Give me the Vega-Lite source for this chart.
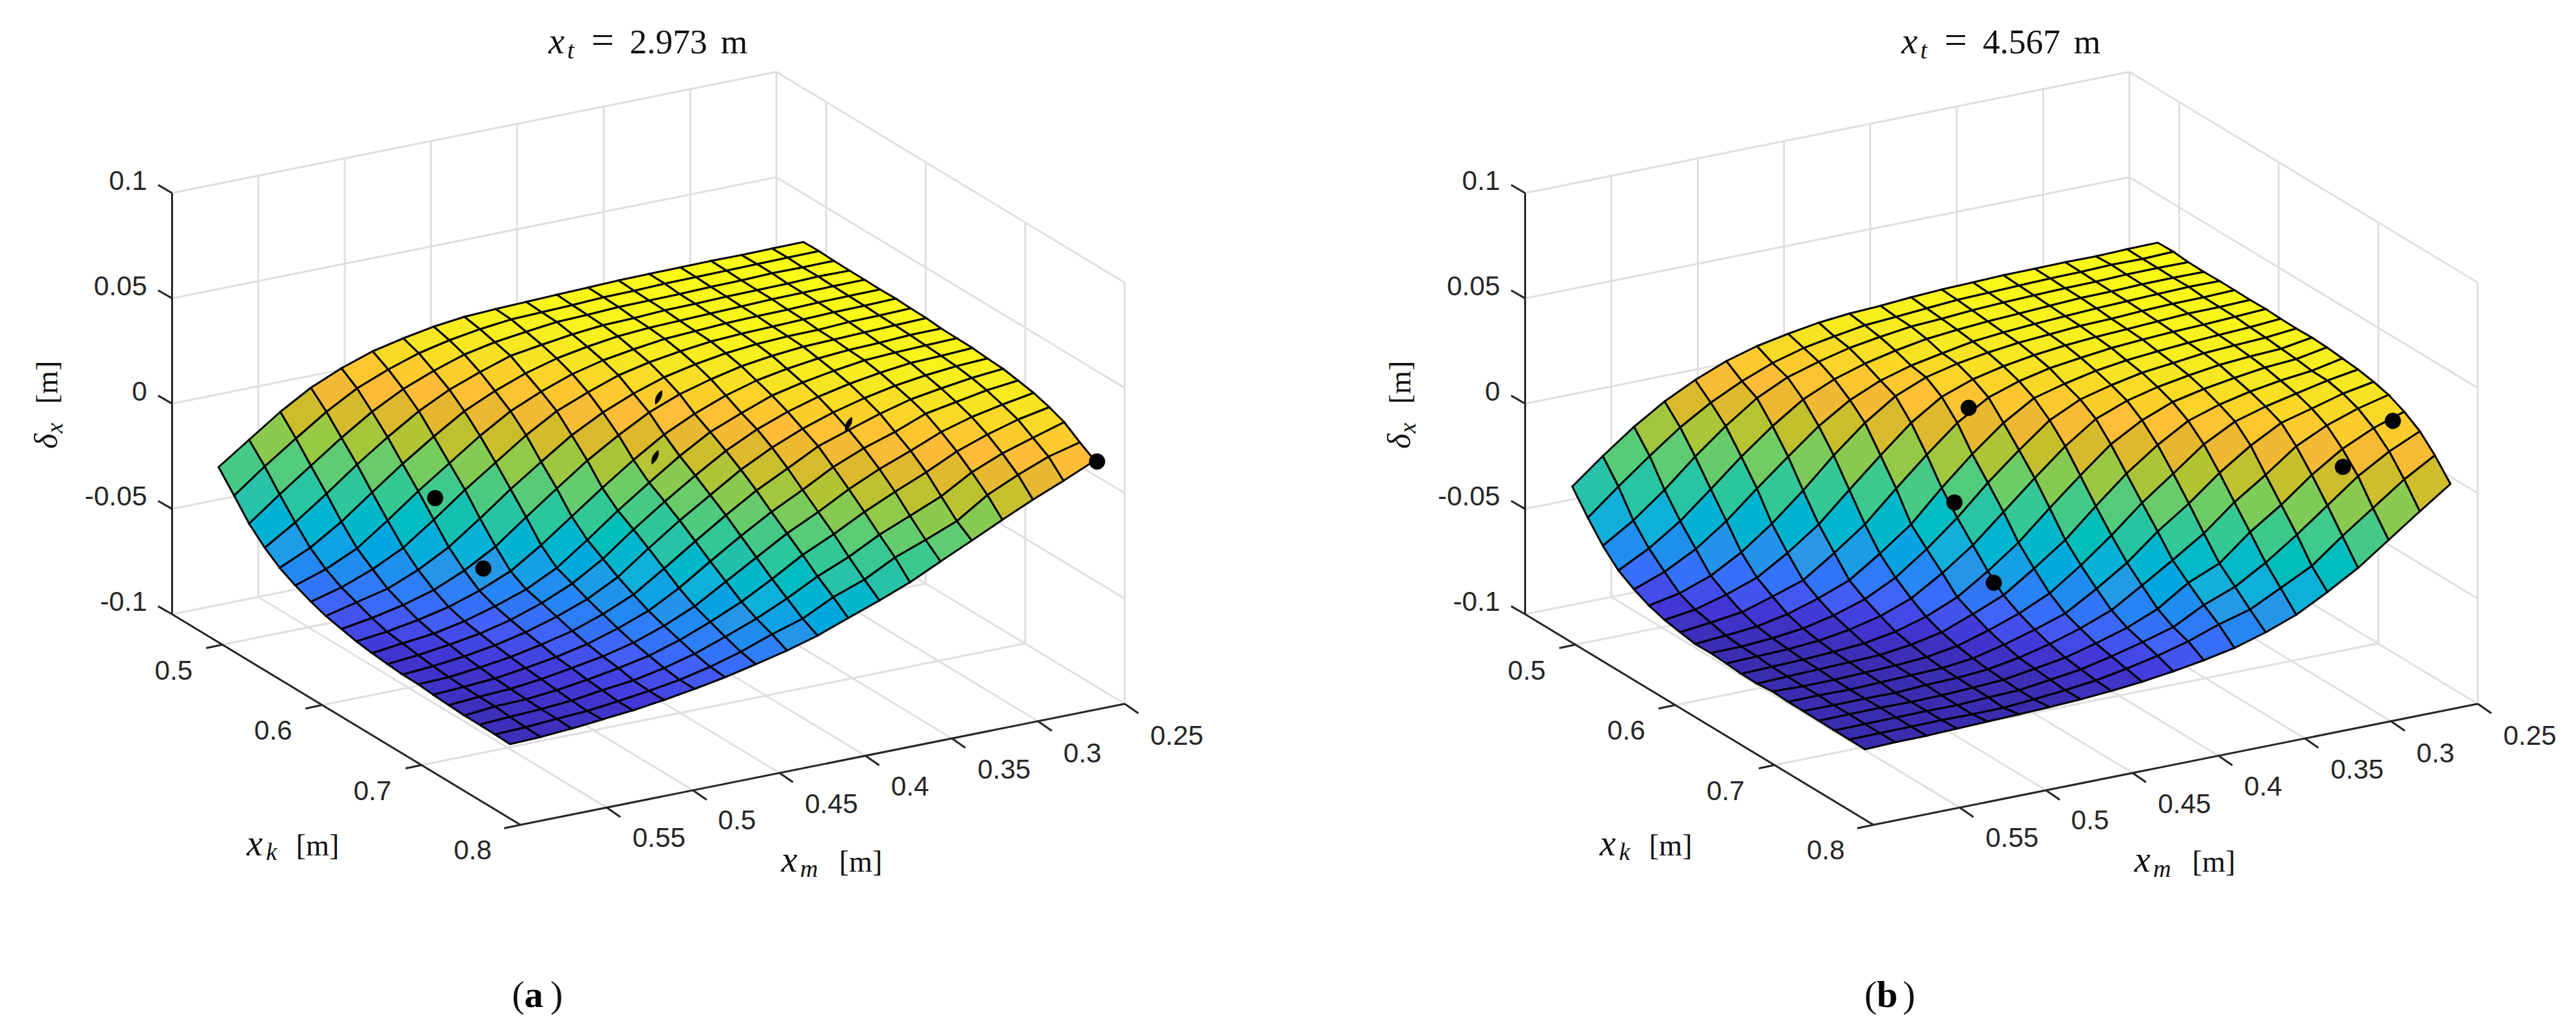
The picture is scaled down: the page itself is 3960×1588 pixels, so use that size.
{"$schema":"https://vega.github.io/schema/vega-lite/v6.json","width":3960,"height":1588,"padding":0,"autosize":{"type":"fit","contains":"padding"},"background":"white","view":{"stroke":null},
"datasets":{
"grid":[{"x":264.5,"y":296.7,"x2":1193.5,"y2":110.5},{"x":264.5,"y":458.6,"x2":1193.5,"y2":272.4},{"x":264.5,"y":620.5,"x2":1193.5,"y2":434.3},{"x":264.5,"y":782.4,"x2":1193.5,"y2":596.2},{"x":264.5,"y":944.3,"x2":1193.5,"y2":758},{"x":1193.5,"y":110.5,"x2":1729,"y2":434.5},{"x":1193.5,"y":272.4,"x2":1729,"y2":596.4},{"x":1193.5,"y":434.3,"x2":1729,"y2":758.3},{"x":1193.5,"y":596.2,"x2":1729,"y2":920.2},{"x":1193.5,"y":758,"x2":1729,"y2":1082},{"x":397,"y":270,"x2":397,"y2":917.7},{"x":530,"y":243.5,"x2":530,"y2":891},{"x":662.5,"y":217,"x2":662.5,"y2":864.5},{"x":795,"y":190,"x2":795,"y2":838},{"x":928,"y":164,"x2":928,"y2":811},{"x":1061,"y":137,"x2":1061,"y2":784.7},{"x":1193.5,"y":110.5,"x2":1193.5,"y2":758},{"x":1270,"y":157,"x2":1270,"y2":804},{"x":1423,"y":249,"x2":1423,"y2":897},{"x":1576,"y":342,"x2":1576,"y2":989},{"x":1729,"y":434.5,"x2":1729,"y2":1082},{"x":397,"y":917.7,"x2":932.7,"y2":1241.4},{"x":530,"y":891,"x2":1065.4,"y2":1215},{"x":662.5,"y":864.5,"x2":1198,"y2":1188},{"x":795,"y":838,"x2":1330.7,"y2":1162},{"x":928,"y":811,"x2":1463,"y2":1135},{"x":1061,"y":784.7,"x2":1596,"y2":1109},{"x":342,"y":991,"x2":1270,"y2":804},{"x":494.5,"y":1084,"x2":1423,"y2":897},{"x":648.5,"y":1176,"x2":1576,"y2":989},
{"x":2344.5,"y":296.7,"x2":3273.5,"y2":110.5},{"x":2344.5,"y":458.6,"x2":3273.5,"y2":272.4},{"x":2344.5,"y":620.5,"x2":3273.5,"y2":434.3},{"x":2344.5,"y":782.4,"x2":3273.5,"y2":596.2},{"x":2344.5,"y":944.3,"x2":3273.5,"y2":758},{"x":3273.5,"y":110.5,"x2":3809,"y2":434.5},{"x":3273.5,"y":272.4,"x2":3809,"y2":596.4},{"x":3273.5,"y":434.3,"x2":3809,"y2":758.3},{"x":3273.5,"y":596.2,"x2":3809,"y2":920.2},{"x":3273.5,"y":758,"x2":3809,"y2":1082},{"x":2477,"y":270,"x2":2477,"y2":917.7},{"x":2610,"y":243.5,"x2":2610,"y2":891},{"x":2742.5,"y":217,"x2":2742.5,"y2":864.5},{"x":2875,"y":190,"x2":2875,"y2":838},{"x":3008,"y":164,"x2":3008,"y2":811},{"x":3141,"y":137,"x2":3141,"y2":784.7},{"x":3273.5,"y":110.5,"x2":3273.5,"y2":758},{"x":3350,"y":157,"x2":3350,"y2":804},{"x":3503,"y":249,"x2":3503,"y2":897},{"x":3656,"y":342,"x2":3656,"y2":989},{"x":3809,"y":434.5,"x2":3809,"y2":1082},{"x":2477,"y":917.7,"x2":3012.7,"y2":1241.4},{"x":2610,"y":891,"x2":3145.4,"y2":1215},{"x":2742.5,"y":864.5,"x2":3278,"y2":1188},{"x":2875,"y":838,"x2":3410.7,"y2":1162},{"x":3008,"y":811,"x2":3543,"y2":1135},{"x":3141,"y":784.7,"x2":3676,"y2":1109},{"x":2422,"y":991,"x2":3350,"y2":804},{"x":2574.5,"y":1084,"x2":3503,"y2":897},{"x":2728.5,"y":1176,"x2":3656,"y2":989}],
"axes":[{"x":264.5,"y":296.7,"x2":264.5,"y2":944.3},{"x":264.5,"y":944.3,"x2":800,"y2":1268},{"x":800,"y":1268,"x2":1729,"y2":1082},{"x":264.5,"y":296.7,"x2":243,"y2":284.3},{"x":264.5,"y":458.6,"x2":243,"y2":446.2},{"x":264.5,"y":620.5,"x2":243,"y2":608.1},{"x":264.5,"y":782.4,"x2":243,"y2":770},{"x":264.5,"y":944.3,"x2":243,"y2":931.9},{"x":342,"y":991,"x2":317,"y2":996.3},{"x":494.5,"y":1084,"x2":469.5,"y2":1089.3},{"x":648.5,"y":1176,"x2":623.5,"y2":1181.3},{"x":800,"y":1268,"x2":775,"y2":1273.3},{"x":932.7,"y":1241.4,"x2":953.7,"y2":1256},{"x":1065.4,"y":1215,"x2":1086.4,"y2":1229.6},{"x":1198,"y":1188,"x2":1219,"y2":1202.6},{"x":1330.7,"y":1162,"x2":1351.7,"y2":1176.6},{"x":1463,"y":1135,"x2":1484,"y2":1149.6},{"x":1596,"y":1109,"x2":1617,"y2":1123.6},{"x":1729,"y":1082,"x2":1750,"y2":1096.6},
{"x":2344.5,"y":296.7,"x2":2344.5,"y2":944.3},{"x":2344.5,"y":944.3,"x2":2880,"y2":1268},{"x":2880,"y":1268,"x2":3809,"y2":1082},{"x":2344.5,"y":296.7,"x2":2323,"y2":284.3},{"x":2344.5,"y":458.6,"x2":2323,"y2":446.2},{"x":2344.5,"y":620.5,"x2":2323,"y2":608.1},{"x":2344.5,"y":782.4,"x2":2323,"y2":770},{"x":2344.5,"y":944.3,"x2":2323,"y2":931.9},{"x":2422,"y":991,"x2":2397,"y2":996.3},{"x":2574.5,"y":1084,"x2":2549.5,"y2":1089.3},{"x":2728.5,"y":1176,"x2":2703.5,"y2":1181.3},{"x":2880,"y":1268,"x2":2855,"y2":1273.3},{"x":3012.7,"y":1241.4,"x2":3033.7,"y2":1256},{"x":3145.4,"y":1215,"x2":3166.4,"y2":1229.6},{"x":3278,"y":1188,"x2":3299,"y2":1202.6},{"x":3410.7,"y":1162,"x2":3431.7,"y2":1176.6},{"x":3543,"y":1135,"x2":3564,"y2":1149.6},{"x":3676,"y":1109,"x2":3697,"y2":1123.6},{"x":3809,"y":1082,"x2":3830,"y2":1096.6}],
"mesh":[
{"x":336,"y":718,"c":264},{"x":383,"y":676,"c":297},{"x":431,"y":633,"c":330},{"x":478,"y":596,"c":358},{"x":525,"y":566,"c":378},{"x":573,"y":540,"c":395},{"x":620,"y":520,"c":406},{"x":667,"y":502,"c":414},{"x":714,"y":487,"c":420},{"x":762,"y":475,"c":422},{"x":809,"y":464,"c":424},{"x":856,"y":453,"c":425},{"x":904,"y":442,"c":427},{"x":951,"y":431,"c":428},{"x":998,"y":421,"c":429},{"x":1046,"y":411,"c":429},{"x":1093,"y":401,"c":430},{"x":1140,"y":392,"c":430},{"x":1187,"y":382,"c":431},{"x":1235,"y":372},
{"x":360,"y":762,"c":234},{"x":407,"y":717,"c":270},{"x":455,"y":674,"c":303},{"x":502,"y":633,"c":335},{"x":549,"y":597,"c":362},{"x":597,"y":568,"c":381},{"x":644,"y":543,"c":397},{"x":691,"y":523,"c":407},{"x":738,"y":506,"c":415},{"x":786,"y":491,"c":420},{"x":833,"y":480,"c":422},{"x":880,"y":469,"c":424},{"x":928,"y":457,"c":426},{"x":975,"y":447,"c":427},{"x":1022,"y":436,"c":428},{"x":1070,"y":426,"c":429},{"x":1117,"y":416,"c":430},{"x":1164,"y":406,"c":430},{"x":1211,"y":396,"c":431},{"x":1259,"y":386},
{"x":383,"y":805,"c":206},{"x":430,"y":760,"c":241},{"x":478,"y":716,"c":276},{"x":525,"y":673,"c":309},{"x":572,"y":633,"c":340},{"x":620,"y":598,"c":365},{"x":667,"y":570,"c":384},{"x":714,"y":545,"c":400},{"x":761,"y":526,"c":409},{"x":809,"y":510,"c":416},{"x":856,"y":495,"c":421},{"x":903,"y":484,"c":423},{"x":951,"y":472,"c":425},{"x":998,"y":462,"c":426},{"x":1045,"y":452,"c":427},{"x":1093,"y":441,"c":428},{"x":1140,"y":431,"c":429},{"x":1187,"y":420,"c":430},{"x":1234,"y":411,"c":430},{"x":1282,"y":401},
{"x":407,"y":842,"c":183},{"x":454,"y":803,"c":212},{"x":502,"y":759,"c":247},{"x":549,"y":714,"c":282},{"x":596,"y":672,"c":315},{"x":644,"y":632,"c":345},{"x":691,"y":599,"c":369},{"x":738,"y":572,"c":387},{"x":785,"y":547,"c":402},{"x":833,"y":530,"c":410},{"x":880,"y":514,"c":417},{"x":927,"y":500,"c":421},{"x":975,"y":489,"c":423},{"x":1022,"y":477,"c":425},{"x":1069,"y":467,"c":426},{"x":1117,"y":456,"c":427},{"x":1164,"y":446,"c":428},{"x":1211,"y":436,"c":429},{"x":1258,"y":425,"c":430},{"x":1306,"y":416},
{"x":430,"y":873,"c":166},{"x":477,"y":842,"c":187},{"x":525,"y":802,"c":218},{"x":572,"y":757,"c":254},{"x":619,"y":713,"c":288},{"x":667,"y":671,"c":321},{"x":714,"y":632,"c":350},{"x":761,"y":601,"c":372},{"x":808,"y":574,"c":390},{"x":856,"y":551,"c":403},{"x":903,"y":533,"c":412},{"x":950,"y":517,"c":418},{"x":998,"y":504,"c":421},{"x":1045,"y":493,"c":423},{"x":1092,"y":482,"c":425},{"x":1140,"y":471,"c":426},{"x":1187,"y":460,"c":428},{"x":1234,"y":450,"c":429},{"x":1281,"y":440,"c":429},{"x":1329,"y":430},
{"x":454,"y":900,"c":153},{"x":501,"y":875,"c":169},{"x":549,"y":843,"c":191},{"x":596,"y":800,"c":224},{"x":643,"y":755,"c":260},{"x":691,"y":712,"c":294},{"x":738,"y":670,"c":327},{"x":785,"y":632,"c":355},{"x":832,"y":602,"c":376},{"x":880,"y":575,"c":393},{"x":927,"y":554,"c":405},{"x":974,"y":537,"c":413},{"x":1022,"y":521,"c":419},{"x":1069,"y":509,"c":422},{"x":1116,"y":497,"c":424},{"x":1164,"y":486,"c":425},{"x":1211,"y":476,"c":427},{"x":1258,"y":465,"c":428},{"x":1305,"y":455,"c":429},{"x":1353,"y":445},
{"x":478,"y":925,"c":142},{"x":525,"y":903,"c":155},{"x":573,"y":875,"c":173},{"x":620,"y":842,"c":197},{"x":667,"y":799,"c":231},{"x":715,"y":753,"c":267},{"x":762,"y":711,"c":300},{"x":809,"y":669,"c":332},{"x":856,"y":632,"c":360},{"x":904,"y":603,"c":379},{"x":951,"y":577,"c":396},{"x":998,"y":557,"c":407},{"x":1046,"y":540,"c":414},{"x":1093,"y":525,"c":420},{"x":1140,"y":513,"c":422},{"x":1188,"y":502,"c":424},{"x":1235,"y":491,"c":426},{"x":1282,"y":480,"c":427},{"x":1329,"y":470,"c":428},{"x":1377,"y":459},
{"x":501,"y":947,"c":134},{"x":548,"y":926,"c":146},{"x":596,"y":905,"c":158},{"x":643,"y":876,"c":177},{"x":690,"y":841,"c":203},{"x":738,"y":797,"c":237},{"x":785,"y":752,"c":273},{"x":832,"y":710,"c":305},{"x":879,"y":669,"c":337},{"x":927,"y":634,"c":363},{"x":974,"y":605,"c":382},{"x":1021,"y":580,"c":398},{"x":1069,"y":560,"c":408},{"x":1116,"y":543,"c":415},{"x":1163,"y":529,"c":420},{"x":1211,"y":517,"c":422},{"x":1258,"y":507,"c":424},{"x":1305,"y":495,"c":426},{"x":1352,"y":485,"c":427},{"x":1400,"y":474},
{"x":525,"y":967,"c":129},{"x":572,"y":950,"c":136},{"x":620,"y":930,"c":147},{"x":667,"y":907,"c":160},{"x":714,"y":877,"c":181},{"x":762,"y":840,"c":209},{"x":809,"y":795,"c":244},{"x":856,"y":751,"c":278},{"x":903,"y":708,"c":311},{"x":951,"y":669,"c":342},{"x":998,"y":634,"c":367},{"x":1045,"y":606,"c":385},{"x":1093,"y":583,"c":400},{"x":1140,"y":563,"c":409},{"x":1187,"y":547,"c":416},{"x":1235,"y":533,"c":421},{"x":1282,"y":522,"c":423},{"x":1329,"y":511,"c":425},{"x":1376,"y":500,"c":426},{"x":1424,"y":489},
{"x":548,"y":986,"c":124},{"x":595,"y":971,"c":130},{"x":643,"y":953,"c":138},{"x":690,"y":933,"c":149},{"x":737,"y":908,"c":164},{"x":785,"y":878,"c":185},{"x":832,"y":838,"c":215},{"x":879,"y":794,"c":250},{"x":926,"y":750,"c":284},{"x":974,"y":707,"c":317},{"x":1021,"y":668,"c":347},{"x":1068,"y":636,"c":370},{"x":1116,"y":608,"c":388},{"x":1163,"y":585,"c":403},{"x":1210,"y":567,"c":411},{"x":1258,"y":551,"c":418},{"x":1305,"y":538,"c":421},{"x":1352,"y":527,"c":423},{"x":1399,"y":515,"c":425},{"x":1447,"y":505},
{"x":572,"y":1004,"c":120},{"x":619,"y":989,"c":125},{"x":667,"y":974,"c":131},{"x":714,"y":955,"c":140},{"x":761,"y":932,"c":154},{"x":809,"y":906,"c":171},{"x":856,"y":873,"c":194},{"x":903,"y":830,"c":228},{"x":950,"y":785,"c":264},{"x":998,"y":742,"c":297},{"x":1045,"y":701,"c":329},{"x":1092,"y":664,"c":357},{"x":1140,"y":635,"c":376},{"x":1187,"y":608,"c":393},{"x":1234,"y":588,"c":405},{"x":1282,"y":570,"c":413},{"x":1329,"y":554,"c":419},{"x":1376,"y":542,"c":422},{"x":1423,"y":531,"c":424},{"x":1471,"y":520},
{"x":596,"y":1021,"c":117},{"x":643,"y":1007,"c":122},{"x":691,"y":991,"c":128},{"x":738,"y":974,"c":136},{"x":785,"y":953,"c":148},{"x":833,"y":927,"c":164},{"x":880,"y":897,"c":184},{"x":927,"y":859,"c":214},{"x":974,"y":814,"c":249},{"x":1022,"y":771,"c":282},{"x":1069,"y":731,"c":313},{"x":1116,"y":693,"c":342},{"x":1164,"y":660,"c":365},{"x":1211,"y":633,"c":383},{"x":1258,"y":610,"c":397},{"x":1306,"y":590,"c":407},{"x":1353,"y":573,"c":415},{"x":1400,"y":558,"c":420},{"x":1447,"y":547,"c":422},{"x":1495,"y":535},
{"x":619,"y":1037,"c":115},{"x":666,"y":1024,"c":119},{"x":714,"y":1009,"c":125},{"x":761,"y":992,"c":132},{"x":808,"y":972,"c":142},{"x":856,"y":948,"c":157},{"x":903,"y":921,"c":175},{"x":950,"y":887,"c":199},{"x":997,"y":843,"c":234},{"x":1045,"y":800,"c":268},{"x":1092,"y":761,"c":297},{"x":1139,"y":722,"c":327},{"x":1187,"y":688,"c":351},{"x":1234,"y":659,"c":371},{"x":1281,"y":634,"c":387},{"x":1329,"y":612,"c":399},{"x":1376,"y":593,"c":409},{"x":1423,"y":577,"c":416},{"x":1470,"y":563,"c":420},{"x":1518,"y":551},
{"x":643,"y":1052,"c":115},{"x":690,"y":1041,"c":116},{"x":738,"y":1026,"c":122},{"x":785,"y":1010,"c":128},{"x":832,"y":991,"c":138},{"x":880,"y":970,"c":150},{"x":927,"y":944,"c":166},{"x":974,"y":914,"c":187},{"x":1021,"y":874,"c":217},{"x":1069,"y":832,"c":250},{"x":1116,"y":792,"c":280},{"x":1163,"y":754,"c":308},{"x":1211,"y":720,"c":334},{"x":1258,"y":686,"c":358},{"x":1305,"y":661,"c":374},{"x":1353,"y":636,"c":389},{"x":1400,"y":614,"c":402},{"x":1447,"y":597,"c":410},{"x":1494,"y":581,"c":416},{"x":1542,"y":567},
{"x":666,"y":1068,"c":113},{"x":713,"y":1056,"c":115},{"x":761,"y":1043,"c":119},{"x":808,"y":1027,"c":125},{"x":855,"y":1010,"c":133},{"x":903,"y":990,"c":144},{"x":950,"y":966,"c":158},{"x":997,"y":939,"c":176},{"x":1044,"y":904,"c":201},{"x":1092,"y":863,"c":233},{"x":1139,"y":824,"c":263},{"x":1186,"y":787,"c":290},{"x":1234,"y":753,"c":315},{"x":1281,"y":718,"c":340},{"x":1328,"y":689,"c":360},{"x":1376,"y":664,"c":376},{"x":1423,"y":636,"c":394},{"x":1470,"y":618,"c":403},{"x":1517,"y":600,"c":411},{"x":1565,"y":585},
{"x":690,"y":1084,"c":111},{"x":737,"y":1071,"c":114},{"x":785,"y":1059,"c":117},{"x":832,"y":1044,"c":123},{"x":879,"y":1027,"c":130},{"x":927,"y":1009,"c":139},{"x":974,"y":988,"c":151},{"x":1021,"y":962,"c":167},{"x":1068,"y":932,"c":188},{"x":1116,"y":894,"c":216},{"x":1163,"y":857,"c":244},{"x":1210,"y":820,"c":272},{"x":1258,"y":787,"c":295},{"x":1305,"y":752,"c":321},{"x":1352,"y":721,"c":342},{"x":1400,"y":693,"c":361},{"x":1447,"y":664,"c":380},{"x":1494,"y":641,"c":394},{"x":1541,"y":622,"c":404},{"x":1589,"y":604},
{"x":714,"y":1100,"c":109},{"x":761,"y":1086,"c":113},{"x":809,"y":1075,"c":116},{"x":856,"y":1061,"c":120},{"x":903,"y":1045,"c":127},{"x":951,"y":1027,"c":134},{"x":998,"y":1008,"c":145},{"x":1045,"y":984,"c":159},{"x":1092,"y":956,"c":177},{"x":1140,"y":925,"c":199},{"x":1187,"y":890,"c":225},{"x":1234,"y":853,"c":252},{"x":1282,"y":821,"c":275},{"x":1329,"y":787,"c":300},{"x":1376,"y":756,"c":321},{"x":1424,"y":726,"c":341},{"x":1471,"y":694,"c":365},{"x":1518,"y":668,"c":381},{"x":1565,"y":645,"c":395},{"x":1613,"y":626},
{"x":737,"y":1114,"c":109},{"x":784,"y":1102,"c":112},{"x":832,"y":1090,"c":115},{"x":879,"y":1077,"c":118},{"x":926,"y":1061,"c":125},{"x":974,"y":1046,"c":131},{"x":1021,"y":1027,"c":140},{"x":1068,"y":1005,"c":152},{"x":1115,"y":979,"c":169},{"x":1163,"y":951,"c":187},{"x":1210,"y":920,"c":209},{"x":1257,"y":886,"c":234},{"x":1305,"y":856,"c":255},{"x":1352,"y":822,"c":279},{"x":1399,"y":793,"c":298},{"x":1447,"y":763,"c":319},{"x":1494,"y":726,"c":347},{"x":1541,"y":697,"c":366},{"x":1588,"y":673,"c":381},{"x":1636,"y":649},
{"x":761,"y":1129,"c":109},{"x":808,"y":1118,"c":110},{"x":856,"y":1105,"c":114},{"x":903,"y":1093,"c":116},{"x":950,"y":1078,"c":122},{"x":998,"y":1062,"c":129},{"x":1045,"y":1045,"c":136},{"x":1092,"y":1025,"c":147},{"x":1139,"y":1002,"c":160},{"x":1187,"y":975,"c":177},{"x":1234,"y":951,"c":193},{"x":1281,"y":918,"c":216},{"x":1329,"y":891,"c":234},{"x":1376,"y":857,"c":258},{"x":1423,"y":830,"c":276},{"x":1471,"y":801,"c":295},{"x":1518,"y":761,"c":326},{"x":1565,"y":730,"c":347},{"x":1612,"y":702,"c":366},{"x":1660,"y":680},
{"x":784,"y":1144},{"x":831,"y":1133},{"x":879,"y":1120},{"x":926,"y":1106},{"x":973,"y":1092},{"x":1021,"y":1076},{"x":1068,"y":1059},{"x":1115,"y":1041},{"x":1162,"y":1021},{"x":1210,"y":1000},{"x":1257,"y":977},{"x":1304,"y":950},{"x":1352,"y":923},{"x":1399,"y":895},{"x":1446,"y":863},{"x":1494,"y":831},{"x":1541,"y":799},{"x":1588,"y":768},{"x":1635,"y":739},{"x":1683,"y":708},
{"x":2417,"y":748,"c":234},{"x":2464,"y":701,"c":272},{"x":2512,"y":656,"c":307},{"x":2559,"y":617,"c":337},{"x":2606,"y":584,"c":360},{"x":2654,"y":555,"c":380},{"x":2701,"y":532,"c":393},{"x":2749,"y":513,"c":403},{"x":2796,"y":496,"c":411},{"x":2843,"y":482,"c":415},{"x":2891,"y":470,"c":418},{"x":2938,"y":457,"c":421},{"x":2985,"y":445,"c":424},{"x":3033,"y":434,"c":426},{"x":3080,"y":423,"c":427},{"x":3128,"y":413,"c":428},{"x":3175,"y":403,"c":428},{"x":3222,"y":394,"c":428},{"x":3270,"y":383,"c":430},{"x":3317,"y":373},
{"x":2441,"y":796,"c":200},{"x":2488,"y":748,"c":239},{"x":2536,"y":701,"c":276},{"x":2583,"y":657,"c":311},{"x":2630,"y":619,"c":340},{"x":2678,"y":586,"c":363},{"x":2725,"y":558,"c":382},{"x":2773,"y":535,"c":395},{"x":2820,"y":517,"c":404},{"x":2867,"y":500,"c":411},{"x":2915,"y":487,"c":415},{"x":2962,"y":474,"c":418},{"x":3009,"y":461,"c":422},{"x":3057,"y":450,"c":424},{"x":3104,"y":439,"c":426},{"x":3152,"y":428,"c":427},{"x":3199,"y":418,"c":428},{"x":3246,"y":407,"c":428},{"x":3294,"y":398,"c":429},{"x":3341,"y":387},
{"x":2464,"y":839,"c":171},{"x":2511,"y":800,"c":201},{"x":2559,"y":753,"c":239},{"x":2606,"y":702,"c":280},{"x":2653,"y":655,"c":318},{"x":2701,"y":612,"c":351},{"x":2748,"y":580,"c":374},{"x":2796,"y":556,"c":389},{"x":2843,"y":535,"c":400},{"x":2890,"y":518,"c":408},{"x":2938,"y":502,"c":414},{"x":2985,"y":490,"c":417},{"x":3032,"y":477,"c":420},{"x":3080,"y":465,"c":423},{"x":3127,"y":454,"c":425},{"x":3175,"y":443,"c":426},{"x":3222,"y":433,"c":427},{"x":3269,"y":422,"c":428},{"x":3317,"y":412,"c":429},{"x":3364,"y":403},
{"x":2488,"y":877,"c":148},{"x":2535,"y":843,"c":172},{"x":2583,"y":801,"c":205},{"x":2630,"y":752,"c":244},{"x":2677,"y":702,"c":285},{"x":2725,"y":655,"c":323},{"x":2772,"y":614,"c":354},{"x":2820,"y":583,"c":376},{"x":2867,"y":559,"c":391},{"x":2914,"y":539,"c":401},{"x":2962,"y":521,"c":409},{"x":3009,"y":507,"c":414},{"x":3056,"y":494,"c":418},{"x":3104,"y":482,"c":420},{"x":3151,"y":470,"c":423},{"x":3199,"y":458,"c":425},{"x":3246,"y":448,"c":426},{"x":3293,"y":437,"c":427},{"x":3341,"y":427,"c":428},{"x":3388,"y":418},
{"x":2512,"y":906,"c":132},{"x":2559,"y":879,"c":150},{"x":2607,"y":844,"c":176},{"x":2654,"y":801,"c":210},{"x":2701,"y":751,"c":250},{"x":2749,"y":702,"c":290},{"x":2796,"y":655,"c":327},{"x":2844,"y":615,"c":357},{"x":2891,"y":585,"c":378},{"x":2938,"y":562,"c":392},{"x":2986,"y":543,"c":402},{"x":3033,"y":525,"c":410},{"x":3080,"y":511,"c":415},{"x":3128,"y":498,"c":418},{"x":3175,"y":486,"c":421},{"x":3223,"y":474,"c":423},{"x":3270,"y":463,"c":425},{"x":3317,"y":452,"c":426},{"x":3365,"y":441,"c":427},{"x":3412,"y":432},
{"x":2535,"y":931,"c":122},{"x":2582,"y":912,"c":132},{"x":2630,"y":885,"c":149},{"x":2677,"y":849,"c":176},{"x":2724,"y":805,"c":210},{"x":2772,"y":754,"c":252},{"x":2819,"y":700,"c":296},{"x":2867,"y":650,"c":337},{"x":2914,"y":609,"c":369},{"x":2961,"y":580,"c":388},{"x":3009,"y":559,"c":399},{"x":3056,"y":542,"c":407},{"x":3103,"y":527,"c":413},{"x":3151,"y":514,"c":417},{"x":3198,"y":501,"c":420},{"x":3246,"y":490,"c":422},{"x":3293,"y":478,"c":424},{"x":3340,"y":467,"c":426},{"x":3388,"y":457,"c":427},{"x":3435,"y":446},
{"x":2559,"y":953,"c":114},{"x":2606,"y":937,"c":121},{"x":2654,"y":914,"c":134},{"x":2701,"y":888,"c":151},{"x":2748,"y":850,"c":180},{"x":2796,"y":806,"c":214},{"x":2843,"y":753,"c":258},{"x":2891,"y":700,"c":301},{"x":2938,"y":650,"c":342},{"x":2985,"y":610,"c":373},{"x":3033,"y":583,"c":390},{"x":3080,"y":563,"c":401},{"x":3127,"y":546,"c":408},{"x":3175,"y":531,"c":414},{"x":3222,"y":518,"c":417},{"x":3270,"y":506,"c":420},{"x":3317,"y":494,"c":423},{"x":3364,"y":482,"c":425},{"x":3412,"y":472,"c":426},{"x":3459,"y":461},
{"x":2583,"y":972,"c":109},{"x":2630,"y":957,"c":115},{"x":2678,"y":941,"c":122},{"x":2725,"y":917,"c":136},{"x":2772,"y":892,"c":152},{"x":2820,"y":850,"c":184},{"x":2867,"y":806,"c":219},{"x":2915,"y":751,"c":264},{"x":2962,"y":699,"c":307},{"x":3009,"y":650,"c":347},{"x":3057,"y":611,"c":376},{"x":3104,"y":586,"c":392},{"x":3151,"y":566,"c":402},{"x":3199,"y":550,"c":409},{"x":3246,"y":535,"c":415},{"x":3294,"y":522,"c":418},{"x":3341,"y":510,"c":421},{"x":3388,"y":499,"c":423},{"x":3436,"y":487,"c":425},{"x":3483,"y":475},
{"x":2606,"y":990,"c":106},{"x":2653,"y":977,"c":109},{"x":2701,"y":963,"c":114},{"x":2748,"y":944,"c":124},{"x":2795,"y":920,"c":138},{"x":2843,"y":892,"c":156},{"x":2890,"y":851,"c":188},{"x":2938,"y":806,"c":224},{"x":2985,"y":750,"c":270},{"x":3032,"y":698,"c":313},{"x":3080,"y":650,"c":352},{"x":3127,"y":612,"c":380},{"x":3174,"y":590,"c":393},{"x":3222,"y":570,"c":403},{"x":3269,"y":554,"c":410},{"x":3317,"y":540,"c":415},{"x":3364,"y":527,"c":418},{"x":3411,"y":515,"c":421},{"x":3459,"y":503,"c":423},{"x":3506,"y":490},
{"x":2630,"y":1004,"c":106},{"x":2677,"y":994,"c":107},{"x":2725,"y":981,"c":110},{"x":2772,"y":966,"c":116},{"x":2819,"y":946,"c":126},{"x":2867,"y":921,"c":142},{"x":2914,"y":888,"c":165},{"x":2962,"y":844,"c":200},{"x":3009,"y":796,"c":239},{"x":3056,"y":742,"c":283},{"x":3104,"y":692,"c":324},{"x":3151,"y":646,"c":360},{"x":3198,"y":614,"c":383},{"x":3246,"y":592,"c":396},{"x":3293,"y":573,"c":405},{"x":3341,"y":558,"c":411},{"x":3388,"y":543,"c":416},{"x":3435,"y":531,"c":419},{"x":3483,"y":519,"c":421},{"x":3530,"y":505},
{"x":2654,"y":1020,"c":104},{"x":2701,"y":1009,"c":105},{"x":2749,"y":998,"c":107},{"x":2796,"y":985,"c":111},{"x":2843,"y":968,"c":118},{"x":2891,"y":947,"c":130},{"x":2938,"y":920,"c":147},{"x":2986,"y":881,"c":177},{"x":3033,"y":838,"c":211},{"x":3080,"y":787,"c":252},{"x":3128,"y":735,"c":295},{"x":3175,"y":686,"c":335},{"x":3222,"y":644,"c":367},{"x":3270,"y":616,"c":386},{"x":3317,"y":595,"c":397},{"x":3365,"y":577,"c":406},{"x":3412,"y":561,"c":412},{"x":3459,"y":548,"c":416},{"x":3507,"y":536,"c":419},{"x":3554,"y":519},
{"x":2677,"y":1036,"c":104},{"x":2724,"y":1025,"c":104},{"x":2772,"y":1014,"c":105},{"x":2819,"y":1002,"c":108},{"x":2866,"y":989,"c":112},{"x":2914,"y":971,"c":120},{"x":2961,"y":948,"c":134},{"x":3009,"y":918,"c":154},{"x":3056,"y":878,"c":185},{"x":3103,"y":834,"c":219},{"x":3151,"y":781,"c":262},{"x":3198,"y":731,"c":304},{"x":3245,"y":683,"c":342},{"x":3293,"y":646,"c":370},{"x":3340,"y":618,"c":388},{"x":3388,"y":598,"c":399},{"x":3435,"y":581,"c":407},{"x":3482,"y":565,"c":412},{"x":3530,"y":552,"c":416},{"x":3577,"y":534},
{"x":2701,"y":1051,"c":104},{"x":2748,"y":1040,"c":104},{"x":2796,"y":1029,"c":104},{"x":2843,"y":1018,"c":106},{"x":2890,"y":1007,"c":108},{"x":2938,"y":991,"c":113},{"x":2985,"y":972,"c":124},{"x":3033,"y":944,"c":142},{"x":3080,"y":915,"c":162},{"x":3127,"y":874,"c":194},{"x":3175,"y":830,"c":228},{"x":3222,"y":778,"c":271},{"x":3269,"y":728,"c":311},{"x":3317,"y":684,"c":346},{"x":3364,"y":647,"c":374},{"x":3412,"y":622,"c":389},{"x":3459,"y":602,"c":400},{"x":3506,"y":585,"c":407},{"x":3554,"y":570,"c":413},{"x":3601,"y":551},
{"x":2725,"y":1063,"c":104},{"x":2772,"y":1055,"c":104},{"x":2820,"y":1045,"c":104},{"x":2867,"y":1034,"c":105},{"x":2914,"y":1023,"c":106},{"x":2962,"y":1010,"c":110},{"x":3009,"y":993,"c":117},{"x":3057,"y":969,"c":132},{"x":3104,"y":943,"c":148},{"x":3151,"y":912,"c":170},{"x":3199,"y":869,"c":203},{"x":3246,"y":823,"c":240},{"x":3293,"y":773,"c":281},{"x":3341,"y":728,"c":316},{"x":3388,"y":683,"c":352},{"x":3436,"y":648,"c":377},{"x":3483,"y":625,"c":391},{"x":3530,"y":605,"c":401},{"x":3578,"y":585,"c":408},{"x":3625,"y":568},
{"x":2749,"y":1079,"c":104},{"x":2796,"y":1069,"c":104},{"x":2844,"y":1060,"c":104},{"x":2891,"y":1049,"c":104},{"x":2938,"y":1038,"c":105},{"x":2986,"y":1027,"c":107},{"x":3033,"y":1012,"c":112},{"x":3081,"y":991,"c":124},{"x":3128,"y":968,"c":137},{"x":3175,"y":943,"c":153},{"x":3223,"y":905,"c":182},{"x":3270,"y":865,"c":212},{"x":3317,"y":817,"c":250},{"x":3365,"y":774,"c":284},{"x":3412,"y":727,"c":322},{"x":3460,"y":685,"c":354},{"x":3507,"y":650,"c":380},{"x":3554,"y":628,"c":392},{"x":3602,"y":605,"c":402},{"x":3649,"y":587},
{"x":2772,"y":1093,"c":104},{"x":2819,"y":1084,"c":104},{"x":2867,"y":1074,"c":104},{"x":2914,"y":1065,"c":104},{"x":2961,"y":1053,"c":104},{"x":3009,"y":1042,"c":106},{"x":3056,"y":1029,"c":109},{"x":3104,"y":1011,"c":118},{"x":3151,"y":990,"c":130},{"x":3198,"y":966,"c":144},{"x":3246,"y":938,"c":163},{"x":3293,"y":900,"c":191},{"x":3340,"y":861,"c":221},{"x":3388,"y":820,"c":253},{"x":3435,"y":772,"c":291},{"x":3483,"y":730,"c":324},{"x":3530,"y":686,"c":358},{"x":3577,"y":654,"c":381},{"x":3625,"y":628,"c":393},{"x":3672,"y":607},
{"x":2796,"y":1108,"c":104},{"x":2843,"y":1098,"c":104},{"x":2891,"y":1088,"c":104},{"x":2938,"y":1079,"c":104},{"x":2985,"y":1069,"c":104},{"x":3033,"y":1057,"c":105},{"x":3080,"y":1045,"c":107},{"x":3128,"y":1028,"c":115},{"x":3175,"y":1011,"c":123},{"x":3222,"y":989,"c":135},{"x":3270,"y":965,"c":150},{"x":3317,"y":936,"c":170},{"x":3364,"y":896,"c":200},{"x":3412,"y":866,"c":221},{"x":3459,"y":818,"c":259},{"x":3507,"y":776,"c":292},{"x":3554,"y":730,"c":329},{"x":3601,"y":690,"c":359},{"x":3649,"y":658,"c":381},{"x":3696,"y":633},
{"x":2820,"y":1123,"c":104},{"x":2867,"y":1113,"c":104},{"x":2915,"y":1103,"c":104},{"x":2962,"y":1093,"c":104},{"x":3009,"y":1084,"c":104},{"x":3057,"y":1072,"c":104},{"x":3104,"y":1061,"c":106},{"x":3152,"y":1045,"c":112},{"x":3199,"y":1029,"c":119},{"x":3246,"y":1009,"c":130},{"x":3294,"y":987,"c":142},{"x":3341,"y":964,"c":156},{"x":3388,"y":930,"c":181},{"x":3436,"y":902,"c":199},{"x":3483,"y":865,"c":227},{"x":3531,"y":822,"c":260},{"x":3578,"y":777,"c":296},{"x":3625,"y":732,"c":331},{"x":3673,"y":694,"c":360},{"x":3720,"y":663},
{"x":2843,"y":1137,"c":104},{"x":2890,"y":1127,"c":104},{"x":2938,"y":1117,"c":104},{"x":2985,"y":1107,"c":104},{"x":3032,"y":1098,"c":104},{"x":3080,"y":1088,"c":104},{"x":3127,"y":1075,"c":105},{"x":3175,"y":1061,"c":111},{"x":3222,"y":1046,"c":116},{"x":3269,"y":1028,"c":125},{"x":3317,"y":1008,"c":135},{"x":3364,"y":986,"c":148},{"x":3411,"y":960,"c":165},{"x":3459,"y":937,"c":178},{"x":3506,"y":904,"c":202},{"x":3554,"y":870,"c":226},{"x":3601,"y":824,"c":263},{"x":3648,"y":781,"c":297},{"x":3696,"y":737,"c":331},{"x":3743,"y":700},
{"x":2867,"y":1152},{"x":2914,"y":1141},{"x":2962,"y":1131},{"x":3009,"y":1120},{"x":3056,"y":1109},{"x":3104,"y":1098},{"x":3151,"y":1087},{"x":3199,"y":1075},{"x":3246,"y":1062},{"x":3293,"y":1048},{"x":3341,"y":1032},{"x":3388,"y":1015},{"x":3435,"y":996},{"x":3483,"y":972},{"x":3530,"y":945},{"x":3578,"y":910},{"x":3625,"y":873},{"x":3672,"y":830},{"x":3720,"y":786},{"x":3767,"y":744}],
"dots":[{"x":669,"y":765.6},{"x":743,"y":874},{"x":1686.5,"y":709.5},{"x":3026.4,"y":627},{"x":3004.5,"y":772.4},{"x":3065,"y":895.8},{"x":3678.5,"y":647},{"x":3601.6,"y":717.7}],
"slivers":[{"x":1012,"y":611},{"x":1006.6,"y":703},{"x":1304,"y":652}],
"ticks":[{"x":267,"y":1032,"t":"0.5"},{"x":420,"y":1124,"t":"0.6"},{"x":572.6,"y":1217,"t":"0.7"},{"x":726.6,"y":1308,"t":"0.8"},{"x":1013,"y":1289,"t":"0.55"},{"x":1133,"y":1262,"t":"0.5"},{"x":1278,"y":1237,"t":"0.45"},{"x":1399,"y":1210,"t":"0.4"},{"x":1543.6,"y":1184,"t":"0.35"},{"x":1664,"y":1159,"t":"0.3"},{"x":1809,"y":1132,"t":"0.25"},{"x":2347,"y":1032,"t":"0.5"},{"x":2500,"y":1124,"t":"0.6"},{"x":2652.6,"y":1217,"t":"0.7"},{"x":2806.6,"y":1308,"t":"0.8"},{"x":3093,"y":1289,"t":"0.55"},{"x":3213,"y":1262,"t":"0.5"},{"x":3358,"y":1237,"t":"0.45"},{"x":3479,"y":1210,"t":"0.4"},{"x":3623.6,"y":1184,"t":"0.35"},{"x":3744,"y":1159,"t":"0.3"},{"x":3889,"y":1132,"t":"0.25"}],
"zticks":[{"x":226,"y":279,"t":"0.1"},{"x":226,"y":441,"t":"0.05"},{"x":226,"y":603,"t":"0"},{"x":226,"y":764,"t":"-0.05"},{"x":226,"y":926,"t":"-0.1"},{"x":2306,"y":279,"t":"0.1"},{"x":2306,"y":441,"t":"0.05"},{"x":2306,"y":603,"t":"0"},{"x":2306,"y":764,"t":"-0.05"},{"x":2306,"y":926,"t":"-0.1"}],
"roman":[{"x":909,"y":82,"t":"=","s":62},{"x":968,"y":82,"t":"2.973","s":53},{"x":1108,"y":82,"t":"m","s":53},{"x":2989,"y":82,"t":"=","s":62},{"x":3048,"y":82,"t":"4.567","s":53},{"x":3188,"y":82,"t":"m","s":53},{"x":455,"y":1315,"t":"[m]","s":46},{"x":1290,"y":1340,"t":"[m]","s":46},{"x":2535,"y":1315,"t":"[m]","s":46},{"x":3370,"y":1340,"t":"[m]","s":46},{"x":787,"y":1548,"t":"(","s":58},{"x":846,"y":1548,"t":")","s":58},{"x":2866,"y":1548,"t":"(","s":58},{"x":2925,"y":1548,"t":")","s":58}],
"italic":[{"x":843,"y":82,"t":"x","s":56},{"x":872,"y":90,"t":"t","s":38},{"x":2923,"y":82,"t":"x","s":56},{"x":2952,"y":90,"t":"t","s":38},{"x":379,"y":1315,"t":"x","s":56},{"x":409,"y":1322,"t":"k","s":38},{"x":2459,"y":1315,"t":"x","s":56},{"x":2489,"y":1322,"t":"k","s":38},{"x":1201,"y":1340,"t":"x","s":56},{"x":1230,"y":1348,"t":"m","s":38},{"x":3281,"y":1340,"t":"x","s":56},{"x":3310,"y":1348,"t":"m","s":38}],
"bold":[{"x":806,"y":1548,"t":"a"},{"x":2885,"y":1548,"t":"b"}],
"rotroman":[{"x":88,"y":621,"t":"[m]"},{"x":2168,"y":621,"t":"[m]"}],
"rotitalic":[{"x":88,"y":690,"t":"δ","s":50},{"x":96,"y":666,"t":"x","s":36},{"x":2168,"y":690,"t":"δ","s":50},{"x":2176,"y":666,"t":"x","s":36}]
},
"encoding":{"x":{"type":"quantitative","scale":{"domain":[0,3960],"nice":false,"zero":false},"axis":null},"y":{"type":"quantitative","scale":{"domain":[1588,0],"nice":false,"zero":false},"axis":null}},
"layer":[
{"data":{"name":"grid"},"mark":{"type":"rule","color":"#dfdfdf","strokeWidth":3},"encoding":{"x":{"field":"x","type":"quantitative"},"y":{"field":"y","type":"quantitative"},"x2":{"field":"x2"},"y2":{"field":"y2"}}},
{"data":{"name":"axes"},"mark":{"type":"rule","color":"#262626","strokeWidth":3},"encoding":{"x":{"field":"x","type":"quantitative"},"y":{"field":"y","type":"quantitative"},"x2":{"field":"x2"},"y2":{"field":"y2"}}},
{"data":{"name":"mesh"},"transform":[{"window":[{"op":"row_number","as":"n"},{"op":"lead","field":"x","param":1,"as":"xb"},{"op":"lead","field":"x","param":21,"as":"xc"},{"op":"lead","field":"x","param":20,"as":"xd"},{"op":"lead","field":"y","param":1,"as":"yb"},{"op":"lead","field":"y","param":21,"as":"yc"},{"op":"lead","field":"y","param":20,"as":"yd"}]},{"filter":"isValid(datum.c)"},{"fold":["x","xb","xc","xd"],"as":["kx","vx"]},{"fold":["y","yb","yc","yd"],"as":["ky","vy"]},{"filter":"slice(datum.kx,1)==slice(datum.ky,1)"}],
"mark":{"type":"line","interpolate":"linear-closed","stroke":"#000000","strokeWidth":3,"strokeJoin":"miter"},
"encoding":{"x":{"field":"vx","type":"quantitative"},"y":{"field":"vy","type":"quantitative"},"detail":{"field":"n","type":"nominal"},"order":{"field":"kx"},"fill":{"field":"c","type":"quantitative","legend":null,"scale":{"domain":[104,122,140,160,180,200,222,234,262,285,305,325,345,365,385,405,431],"range":["#3a2cae","#4236d6","#4460fa","#2f80f6","#2a98e6","#12b0d8","#04b9c6","#27c2a8","#42ca88","#70cc63","#9cc840","#c6bf2c","#e4b72f","#febc38","#fbcf2a","#f5e622","#f9fb15"]}}}},
{"data":{"name":"slivers"},"mark":{"type":"point","filled":true,"color":"#000000","opacity":1,"size":500,"shape":"M0.5,-1 C0.7,-0.3 0.3,0.5 -0.4,1 C-0.6,0.3 -0.3,-0.5 0.5,-1 Z"},"encoding":{"x":{"field":"x","type":"quantitative"},"y":{"field":"y","type":"quantitative"}}},
{"data":{"name":"dots"},"mark":{"type":"circle","color":"#000000","opacity":1,"size":616},"encoding":{"x":{"field":"x","type":"quantitative"},"y":{"field":"y","type":"quantitative"}}},
{"data":{"name":"ticks"},"mark":{"type":"text","font":"Liberation Sans","fontSize":42,"color":"#262626","align":"center","baseline":"middle"},"encoding":{"x":{"field":"x","type":"quantitative"},"y":{"field":"y","type":"quantitative"},"text":{"field":"t"}}},
{"data":{"name":"zticks"},"mark":{"type":"text","font":"Liberation Sans","fontSize":42,"color":"#262626","align":"right","baseline":"middle"},"encoding":{"x":{"field":"x","type":"quantitative"},"y":{"field":"y","type":"quantitative"},"text":{"field":"t"}}},
{"data":{"name":"roman"},"mark":{"type":"text","font":"Liberation Serif","color":"#111111","align":"left","baseline":"alphabetic"},"encoding":{"x":{"field":"x","type":"quantitative"},"y":{"field":"y","type":"quantitative"},"text":{"field":"t"},"size":{"field":"s","type":"quantitative","scale":null}}},
{"data":{"name":"italic"},"mark":{"type":"text","font":"Liberation Serif","fontStyle":"italic","color":"#111111","align":"left","baseline":"alphabetic"},"encoding":{"x":{"field":"x","type":"quantitative"},"y":{"field":"y","type":"quantitative"},"text":{"field":"t"},"size":{"field":"s","type":"quantitative","scale":null}}},
{"data":{"name":"bold"},"mark":{"type":"text","font":"Liberation Serif","fontWeight":"bold","fontSize":58,"color":"#000000","align":"left","baseline":"alphabetic"},"encoding":{"x":{"field":"x","type":"quantitative"},"y":{"field":"y","type":"quantitative"},"text":{"field":"t"}}},
{"data":{"name":"rotroman"},"mark":{"type":"text","font":"Liberation Serif","fontSize":46,"angle":270,"color":"#111111","align":"left","baseline":"alphabetic"},"encoding":{"x":{"field":"x","type":"quantitative"},"y":{"field":"y","type":"quantitative"},"text":{"field":"t"}}},
{"data":{"name":"rotitalic"},"mark":{"type":"text","font":"Liberation Serif","fontStyle":"italic","angle":270,"color":"#111111","align":"left","baseline":"alphabetic"},"encoding":{"x":{"field":"x","type":"quantitative"},"y":{"field":"y","type":"quantitative"},"text":{"field":"t"},"size":{"field":"s","type":"quantitative","scale":null}}}
]}
